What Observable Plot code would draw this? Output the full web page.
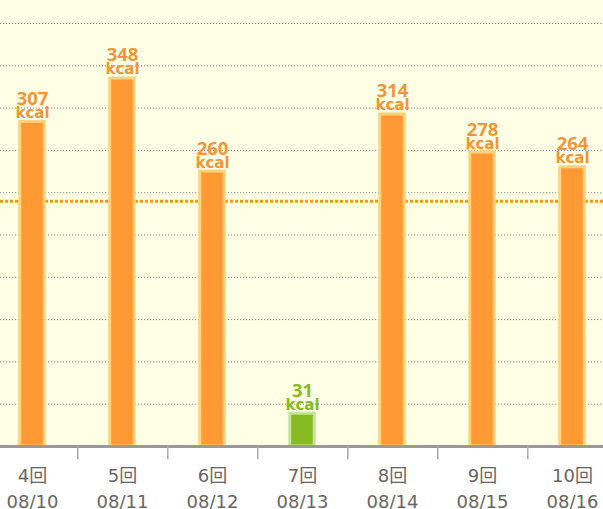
<!DOCTYPE html>
<html>
<head>
<meta charset="utf-8">
<script src="https://cdn.jsdelivr.net/npm/d3@7"></script>
<script src="https://cdn.jsdelivr.net/npm/@observablehq/plot@0.6"></script>
<style>
  html, body { margin: 0; padding: 0; background: #fff; }
  #chart svg { display: block; background: linear-gradient(to bottom, #FFFFE6 0px, #FFFFE6 446px, #ffffff 446px); }
</style>
</head>
<body>
<div id="chart"></div>
<script>
const sessions = ["4回", "5回", "6回", "7回", "8回", "9回", "10回"];
const dates = ["08/10", "08/11", "08/12", "08/13", "08/14", "08/15", "08/16"];
const kcal = [307, 348, 260, 31, 314, 278, 264];
const lowFlags = [false, false, false, true, false, false, false];
const average = 232;
const gridValues = [40, 80, 120, 160, 200, 240, 280, 320, 360, 400];
const tickLength = -12.5;

const data = sessions.map((s, i) => ({
  key: s + "\n" + dates[i],
  kcal: kcal[i],
  low: lowFlags[i]
}));
const keys = data.map(d => d.key);

const fontFamily = '"DejaVu Sans", "Noto Sans CJK JP", sans-serif';

const chart = Plot.plot({
  width: 603,
  height: 509,
  marginTop: 23,
  marginBottom: 63,
  marginLeft: 0,
  marginRight: 0,
  style: { fontFamily, overflow: "visible" },
  x: { type: "band", domain: keys, range: [-14.5, 618.5], padding: 0, axis: null, label: null },
  y: { domain: [0, 400], axis: null, label: null },
  marks: [
    Plot.ruleY(gridValues, { stroke: "#8a8a8a", strokeWidth: 1, strokeDasharray: "1.2,1.8" }),
    Plot.ruleY([average], { stroke: "#FF9900", strokeWidth: 3, strokeDasharray: "3,2" }),
    Plot.barY(data, {
      x: "key", y: "kcal",
      fill: d => d.low ? "#88BB22" : "#FF9933",
      stroke: d => d.low ? "#C6E29A" : "#FFD27A",
      strokeWidth: 3,
      insetLeft: 32.75, insetRight: 32.75
    }),
    Plot.text(data, {
      x: "key", y: "kcal",
      text: d => String(d.kcal),
      fill: d => d.low ? "#88BB22" : "#F0963A",
      fontSize: 18.5, fontWeight: "bold", fontFamily: '"Open Sans", "DejaVu Sans", sans-serif',
      lineAnchor: "bottom", dy: -17
    }),
    Plot.text(data, {
      x: "key", y: "kcal",
      text: d => "kcal",
      fill: d => d.low ? "#88BB22" : "#F0963A",
      fontSize: 15, fontWeight: "bold",
      lineAnchor: "bottom", dy: -4
    }),
    Plot.ruleY([0], { stroke: "#999999", strokeWidth: 3 }),
    Plot.ruleX(keys.slice(0, -1), { x: d => d, dx: 45.25, y1: 0, y2: tickLength, stroke: "#aaaaaa", strokeWidth: 1.5, clip: false }),
    Plot.axisX({ tickSize: 0, tickPadding: 17, fontSize: 18, lineHeight: 1.44, fill: "#666666", anchor: "bottom", label: null })
  ]
});
document.getElementById("chart").appendChild(chart);
</script>
</body>
</html>
